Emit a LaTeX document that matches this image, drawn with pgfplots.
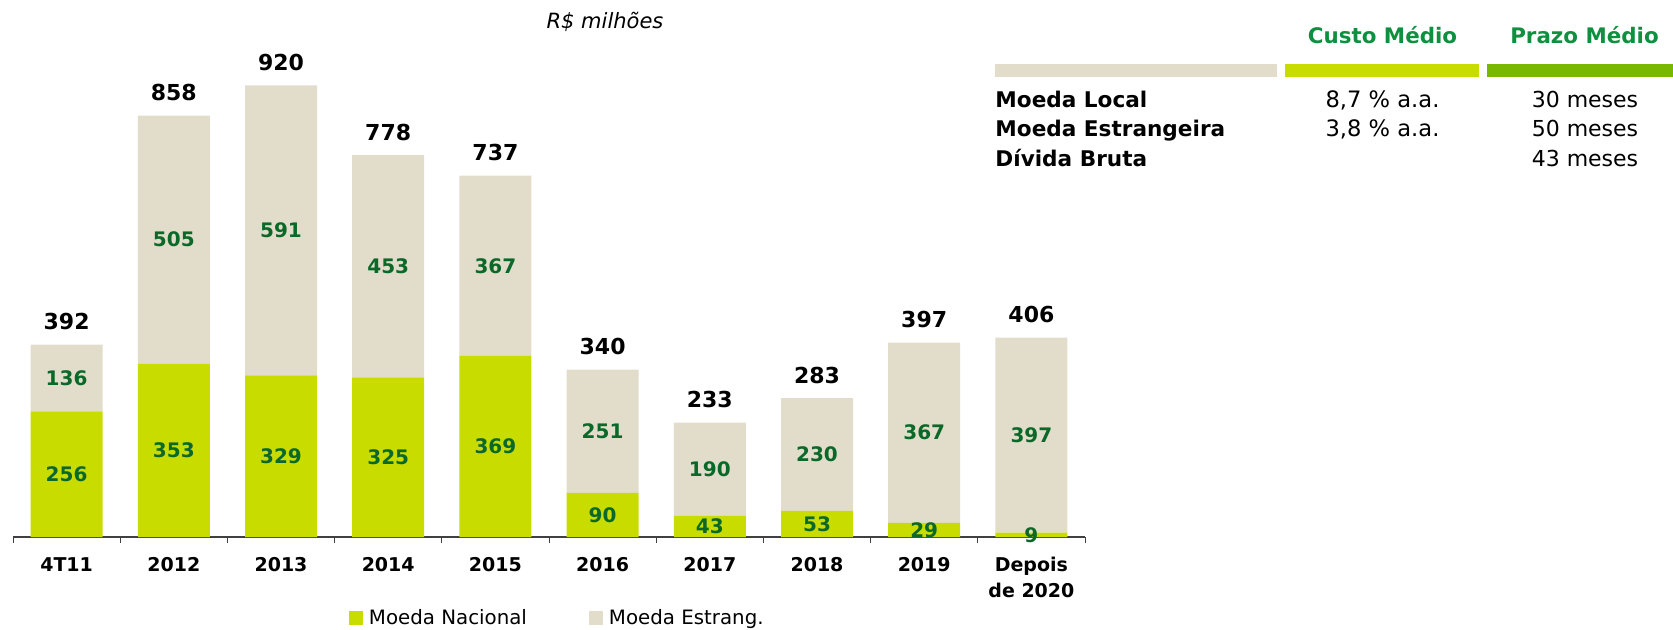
\documentclass[border=0pt]{standalone}
\usepackage{pgfplots}
\pgfplotsset{compat=1.18}
\usepackage{fontspec}
\setmainfont{DejaVu Sans}
\definecolor{cyel}{RGB}{200,220,0}
\definecolor{cbeige}{RGB}{226,220,203}
\definecolor{cgreen}{RGB}{120,184,0}
\definecolor{labgreen}{RGB}{10,105,40}
\definecolor{hdrgreen}{RGB}{14,144,64}
\definecolor{axgray}{RGB}{64,64,64}
\begin{document}
\begin{tikzpicture}
\path[use as bounding box] (0,0) rectangle (836.5pt,314.5pt);
\begin{axis}[
  at={(6.5pt,46pt)}, anchor=south west,
  width=536pt, height=245.5pt, scale only axis,
  ybar stacked, bar width=36pt,
  xmin=-0.5, xmax=9.5, ymin=0, ymax=1000,
  axis x line=bottom, axis y line=none,
  x axis line style={-, draw=axgray, line width=0.6pt},
  xtick={0,...,9},
  xticklabels={4T11,2012,2013,2014,2015,2016,2017,2018,2019,{Depois\\de 2020}},
  xticklabel style={font=\bfseries\fontsize{9.5}{12.8}\selectfont, align=center, anchor=north, inner sep=0pt, yshift=-10pt},
  major tick length=0pt,
  extra x ticks={-0.5,0.5,1.5,2.5,3.5,4.5,5.5,6.5,7.5,8.5,9.5},
  extra x tick labels={},
  extra x tick style={major tick length=3pt, tick align=outside, tick style={draw=axgray, line width=0.5pt}},
  clip=false,
  legend columns=2,
  legend style={at={(axis description cs:0.3134,-0.165)}, anchor=west, draw=none, fill=none, inner sep=0pt, outer sep=0pt, nodes={inner sep=0pt}, font=\fontsize{9.9}{12}\selectfont},
]
\addplot[fill=cyel, draw=none, legend image code/.code={\fill[cyel] (0pt,-3.5pt) rectangle (7pt,3.5pt); \path (10pt,0pt);}]
  coordinates {(0,256) (1,353) (2,329) (3,325) (4,369) (5,90) (6,43) (7,53) (8,29) (9,9)};
\addlegendentry{Moeda Nacional\hspace*{31pt}}
\addplot[fill=cbeige, draw=none, legend image code/.code={\fill[cbeige] (0pt,-3.5pt) rectangle (7pt,3.5pt); \path (10pt,0pt);}]
  coordinates {(0,136) (1,505) (2,591) (3,453) (4,367) (5,251) (6,190) (7,230) (8,367) (9,397)};
\addlegendentry{Moeda Estrang.}
\end{axis}
\begin{axis}[
  at={(6.5pt,46pt)}, anchor=south west,
  width=536pt, height=245.5pt, scale only axis,
  xmin=-0.5, xmax=9.5, ymin=0, ymax=1000,
  hide axis, clip=false,
]
\addplot[draw=none, nodes near coords, point meta=explicit symbolic,
  every node near coord/.style={anchor=center, inner sep=0pt, font=\bfseries\fontsize{10}{12}\selectfont, text=labgreen}]
  coordinates {(0,128) [256] (1,176.5) [353] (2,164.5) [329] (3,162.5) [325] (4,184.5) [369]
               (5,45) [90] (6,21.5) [43] (7,26.5) [53] (8,14.5) [29] (9,4.5) [9]};
\addplot[draw=none, nodes near coords, point meta=explicit symbolic,
  every node near coord/.style={anchor=center, inner sep=0pt, font=\bfseries\fontsize{10}{12}\selectfont, text=labgreen}]
  coordinates {(0,324) [136] (1,605.5) [505] (2,624.5) [591] (3,551.5) [453] (4,552.5) [367]
               (5,215.5) [251] (6,138) [190] (7,168) [230] (8,212.5) [367] (9,207.5) [397]};
\addplot[draw=none, nodes near coords, point meta=explicit symbolic,
  every node near coord/.style={anchor=base, inner sep=0pt, yshift=7.5pt, font=\bfseries\fontsize{11}{13}\selectfont, text=black}]
  coordinates {(0,392) [392] (1,858) [858] (2,920) [920] (3,778) [778] (4,736) [737]
               (5,341) [340] (6,233) [233] (7,283) [283] (8,396) [397] (9,406) [406]};
\end{axis}
\node[anchor=base, inner sep=0pt, font=\itshape\fontsize{10.5}{12}\selectfont] at (302.5pt,300.3pt) {R\$ milhões};
\fill[cbeige] (497.5pt,276pt) rectangle (638.5pt,282.5pt);
\fill[cyel] (642.5pt,276pt) rectangle (739.5pt,282.5pt);
\fill[cgreen] (743.5pt,276pt) rectangle (836.5pt,282.5pt);
\node[anchor=base, inner sep=0pt, font=\bfseries\fontsize{10.7}{12}\selectfont, text=hdrgreen] at (691.25pt,292.9pt) {Custo Médio};
\node[anchor=base, inner sep=0pt, font=\bfseries\fontsize{10.7}{12}\selectfont, text=hdrgreen] at (792.25pt,292.9pt) {Prazo Médio};
\node[anchor=base west, inner sep=0pt, font=\bfseries\fontsize{10.8}{12}\selectfont] at (497.5pt,261pt) {Moeda Local};
\node[anchor=base west, inner sep=0pt, font=\bfseries\fontsize{10.8}{12}\selectfont] at (497.5pt,246.25pt) {Moeda Estrangeira};
\node[anchor=base west, inner sep=0pt, font=\bfseries\fontsize{10.8}{12}\selectfont] at (497.5pt,231.5pt) {Dívida Bruta};
\node[anchor=base, inner sep=0pt, font=\fontsize{11.3}{12}\selectfont] at (691.25pt,261pt) {8,7 \% a.a.};
\node[anchor=base, inner sep=0pt, font=\fontsize{11.3}{12}\selectfont] at (691.25pt,246.25pt) {3,8 \% a.a.};
\node[anchor=base, inner sep=0pt, font=\fontsize{11}{12}\selectfont] at (792.5pt,261pt) {30 meses};
\node[anchor=base, inner sep=0pt, font=\fontsize{11}{12}\selectfont] at (792.5pt,246.25pt) {50 meses};
\node[anchor=base, inner sep=0pt, font=\fontsize{11}{12}\selectfont] at (792.5pt,231.5pt) {43 meses};
\end{tikzpicture}
\end{document}
